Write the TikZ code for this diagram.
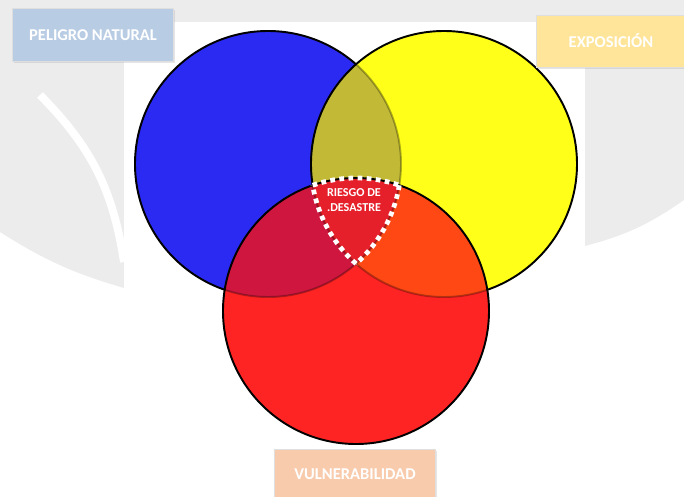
\documentclass[tikz,border=0pt]{standalone}
\usepackage{fontspec}
\setmainfont{Carlito}
\usetikzlibrary{shadows}

\definecolor{peligroblue}{HTML}{2A2AF2}
\definecolor{exposyellow}{HTML}{FFFF1A}
\definecolor{vulnred}{HTML}{FF2424}
\definecolor{oliveboth}{HTML}{C2BA36}
\definecolor{crimsonboth}{HTML}{CF163E}
\definecolor{orangeboth}{HTML}{FF4814}
\definecolor{riesgored}{HTML}{E6202B}
\definecolor{labelblue}{HTML}{B8CCE4}
\definecolor{labelyellow}{HTML}{FFE599}
\definecolor{labelpeach}{HTML}{F8CBAD}
\definecolor{markgray}{HTML}{ECECEC}

\begin{document}
\begin{tikzpicture}[
  x=0.02cm, y=0.02cm,
  venn/.style={draw=black, line width=1.1pt},
  faint/.style={draw=black, line width=1.1pt, draw opacity=0.3},
  tag/.style={draw=gray!25, inner sep=0pt, text=white, font=\fontsize{9.4}{11}\selectfont\bfseries,
    drop shadow={opacity=0.2, shadow xshift=1pt, shadow yshift=-1pt}},
  riesgo/.style={white, line width=2.7pt, dash pattern=on 2.7pt off 2.5pt},
  riesgotext/.style={text=white, align=center, font=\fontsize{6.9}{8.3}\selectfont\bfseries, inner sep=0pt}
]
\useasboundingbox (0,0) rectangle (684,-497);

\fill[markgray] (0,0) -- (684,0) -- (684,-200) to[bend left=10] (585,-246) -- (124,-288)
  to[bend left=8] (0,-232) -- cycle;
\draw[white, line width=4.5pt] (40,-95) to[bend left=18] (124,-262);
\fill[white] (124,-22) rectangle (585,-497);

\coordinate (cpeligro) at (268,-164);
\coordinate (cexpos)   at (444,-164);
\coordinate (cvuln)    at (356,-311);

\fill[peligroblue] (cpeligro) circle (133);
\draw[venn] (cpeligro) circle (133);
\fill[exposyellow] (cexpos) circle (133);
\begin{scope}
  \clip (cexpos) circle (133);
  \fill[oliveboth] (cpeligro) circle (133);
  \draw[faint] (cpeligro) circle (133);
\end{scope}
\draw[venn] (cexpos) circle (133);

\fill[vulnred] (cvuln) circle (133);
\begin{scope}
  \clip (cvuln) circle (133);
  \fill[crimsonboth] (cpeligro) circle (133);
  \fill[orangeboth] (cexpos) circle (133);
  \begin{scope}
    \clip (cpeligro) circle (133);
    \fill[riesgored] (cexpos) circle (133);
  \end{scope}
  \draw[faint] (cpeligro) circle (133);
  \draw[faint] (cexpos) circle (133);
\end{scope}
\draw[venn] (cvuln) circle (133);

\draw[riesgo] (cvuln) ++(109.0:133) arc[start angle=109.0, end angle=71.0, radius=133];
\draw[riesgo] (cpeligro) ++(-9.2:133) arc[start angle=-9.2, end angle=-48.6, radius=133];
\draw[riesgo] (cexpos) ++(228.6:133) arc[start angle=228.6, end angle=189.2, radius=133];

\node[riesgotext] (riesgo-t) at (354,-200) {RIESGO DE\\.DESASTRE};

\node[tag, fill=labelblue, minimum width=161*0.02cm, minimum height=53*0.02cm] (peligro-t) at (93,-35) {PELIGRO NATURAL};
\node[tag, fill=labelyellow, minimum width=150*0.02cm, minimum height=52*0.02cm] (expos-t) at (611,-41) {EXPOSICIÓN};
\node[tag, fill=labelpeach, minimum width=161*0.02cm, minimum height=50*0.02cm] (vuln-t) at (355,-474) {VULNERABILIDAD};

\end{tikzpicture}
\end{document}
